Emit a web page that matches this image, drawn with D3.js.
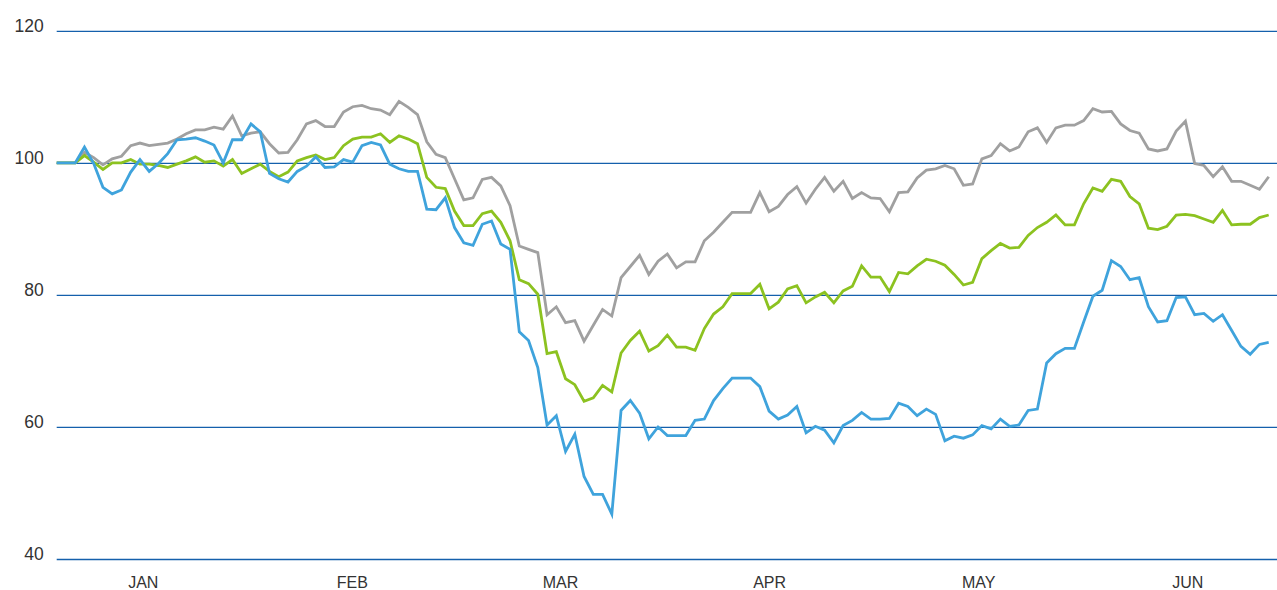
<!DOCTYPE html>
<html>
<head>
<meta charset="utf-8">
<script src="https://cdn.jsdelivr.net/npm/d3@7"></script>
<style>
  body { margin: 0; background: #fff; }
  .axisText { font-family: "Liberation Sans", Arial, sans-serif; fill: #333; }
</style>
</head>
<body>
<div id="chart"></div>
<script>
// index values, first trading day = 100
var grayValues = [
  100, 100, 100, 101.6, 100.8, 99.7, 100.6, 101.0, 102.6, 103.0,
  102.6, 102.8, 103.0, 103.6, 104.4, 105.0, 105.0, 105.4, 105.1, 107.1,
  104.1, 104.5, 104.7, 102.9, 101.5, 101.6, 103.5, 105.9, 106.4, 105.5,
  105.5, 107.7, 108.5, 108.7, 108.2, 108.0, 107.3, 109.3, 108.4, 107.3,
  103.2, 101.3, 100.8, 97.6, 94.4, 94.7, 97.5, 97.8, 96.5, 93.5,
  87.4, 86.9, 86.4, 77.0, 78.2, 75.8, 76.1, 73.0, 75.4, 77.8,
  76.8, 82.6, 84.3, 86.0, 83.1, 85.1, 86.2, 84.1, 85.0, 85.0,
  88.2, 89.5, 91.0, 92.5, 92.5, 92.5, 95.5, 92.6, 93.4, 95.2,
  96.4, 93.9, 96.0, 97.8, 95.7, 97.2, 94.6, 95.5, 94.7, 94.6,
  92.6, 95.5, 95.6, 97.7, 98.9, 99.1, 99.6, 99.1, 96.6, 96.8,
  100.6, 101.1, 102.9, 101.8, 102.4, 104.7, 105.3, 103.1, 105.3, 105.7,
  105.7, 106.4, 108.2, 107.7, 107.8, 105.9, 104.9, 104.5, 102.1, 101.8,
  102.1, 104.8, 106.3, 99.9, 99.6, 97.9, 99.4, 97.2, 97.2, 96.6, 96.0, 97.9
];

var greenValues = [
  100, 100, 100, 101.1, 100.1, 99.0, 100, 100, 100.5, 99.8,
  99.8, 99.6, 99.3, 99.8, 100.3, 100.9, 100.1, 100.3, 99.5, 100.5,
  98.4, 99.1, 99.8, 98.7, 97.9, 98.6, 100.3, 100.8, 101.2, 100.5,
  100.8, 102.6, 103.6, 103.9, 103.9, 104.4, 103.1, 104.1, 103.6, 102.9,
  97.8, 96.3, 96.1, 92.7, 90.5, 90.5, 92.3, 92.7, 91.0, 88.2,
  82.3, 81.7, 80.1, 71.1, 71.4, 67.3, 66.4, 63.9, 64.4, 66.3,
  65.3, 71.2, 73.1, 74.5, 71.5, 72.3, 73.9, 72.1, 72.1, 71.6,
  74.9, 77.1, 78.2, 80.2, 80.2, 80.2, 81.6, 77.9, 78.9, 80.9,
  81.4, 78.8, 79.7, 80.4, 78.8, 80.6, 81.3, 84.4, 82.7, 82.7,
  80.5, 83.4, 83.2, 84.4, 85.4, 85.1, 84.5, 83.1, 81.5, 81.9,
  85.5, 86.7, 87.8, 87.1, 87.2, 89.0, 90.2, 91.0, 92.1, 90.6,
  90.6, 93.8, 96.2, 95.7, 97.5, 97.2, 94.9, 93.8, 90.1, 89.9,
  90.4, 92.1, 92.2, 92.0, 91.5, 91.0, 92.8, 90.6, 90.7, 90.7, 91.7, 92.1
];

var blueValues = [
  100, 100, 100, 102.4, 99.9, 96.3, 95.3, 95.9, 98.6, 100.5,
  98.7, 99.9, 101.4, 103.5, 103.6, 103.8, 103.3, 102.7, 100.0, 103.5,
  103.5, 105.9, 104.7, 98.4, 97.6, 97.1, 98.7, 99.5, 100.9, 99.3,
  99.4, 100.5, 100.1, 102.6, 103.1, 102.7, 99.8, 99.1, 98.7, 98.7,
  93.0, 92.9, 94.7, 90.2, 87.9, 87.5, 90.7, 91.2, 87.7, 86.9,
  74.4, 73.1, 69.0, 60.3, 61.7, 56.3, 58.9, 52.5, 49.8, 49.8,
  46.8, 62.5, 64.0, 62.1, 58.2, 60.0, 58.7, 58.7, 58.7, 61.0,
  61.2, 64.0, 65.8, 67.4, 67.4, 67.4, 66.1, 62.4, 61.2, 61.8,
  63.1, 59.1, 60.1, 59.5, 57.6, 60.2, 61.0, 62.2, 61.2, 61.2,
  61.3, 63.6, 63.1, 61.7, 62.7, 61.9, 57.9, 58.6, 58.3, 58.8,
  60.2, 59.7, 61.2, 60.1, 60.3, 62.5, 62.7, 69.7, 71.1, 71.9,
  71.9, 75.9, 79.8, 80.7, 85.2, 84.3, 82.3, 82.6, 78.2, 75.9,
  76.1, 79.6, 79.7, 77.0, 77.2, 76.0, 77.0, 74.6, 72.2, 71.0, 72.5, 72.8
];

var monthLabels = ["JAN", "FEB", "MAR", "APR", "MAY", "JUN"];
// where each month label sits, in trading-day index
var monthTicks = [9.3, 31.9, 54.4, 77, 99.6, 122.2];
var yTicks = [40, 60, 80, 100, 120];

var svgWidth = 1277;
var svgHeight = 590;

var svg = d3.select("#chart")
    .append("svg")
    .attr("width", svgWidth)
    .attr("height", svgHeight);

var xScale = d3.scaleLinear()
    .domain([0, grayValues.length - 1])
    .range([56.7, 1268.7]);

var yScale = d3.scaleLinear()
    .domain([40, 120])
    .range([559, 30.8]);

// gridlines + value labels
var leftAxis = d3.axisLeft(yScale)
    .tickValues(yTicks)
    .tickSizeInner(-(svgWidth - 56.7))
    .tickSizeOuter(0)
    .tickPadding(13);

var yAxis = svg.append("g")
    .attr("transform", "translate(56.7, 0)")
    .call(leftAxis);

yAxis.select(".domain").remove();
yAxis.selectAll("line")
    .attr("stroke", "#1460ac")
    .attr("stroke-width", 1.3);
yAxis.selectAll("text")
    .attr("class", "axisText")
    .attr("font-size", 17.5)
    .attr("dy", "0.04em");

// month labels
var bottomAxis = d3.axisBottom(xScale)
    .tickValues(monthTicks)
    .tickFormat((d, i) => monthLabels[i])
    .tickSize(0)
    .tickPadding(0);

var xAxis = svg.append("g")
    .attr("transform", "translate(0, 576)")
    .call(bottomAxis);

xAxis.select(".domain").remove();
xAxis.selectAll("text")
    .attr("class", "axisText")
    .attr("font-size", 16)
    .attr("dy", "0.75em");

// lines
var line = d3.line()
    .x((d, i) => xScale(i))
    .y(d => yScale(d));

var series = [
    { values: grayValues, color: "#a0a0a0" },
    { values: greenValues, color: "#8cc220" },
    { values: blueValues, color: "#3fa3dc" }
];

svg.selectAll("path.series")
    .data(series)
    .enter()
    .append("path")
    .attr("class", "series")
    .attr("d", d => line(d.values))
    .attr("fill", "none")
    .attr("stroke", d => d.color)
    .attr("stroke-width", 2.8)
    .attr("stroke-linejoin", "miter");
</script>
</body>
</html>
